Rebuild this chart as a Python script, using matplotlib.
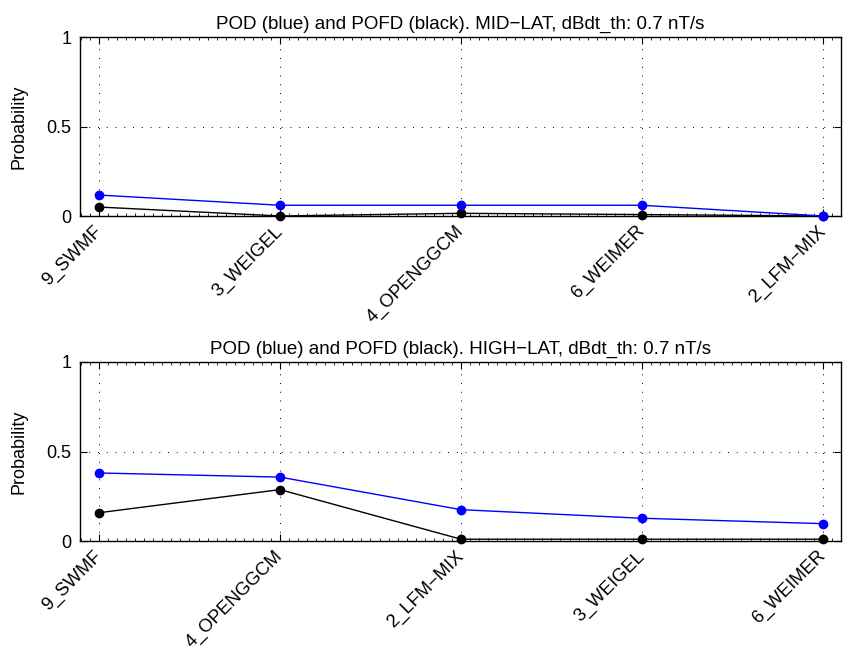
import matplotlib
matplotlib.use('Agg')
import matplotlib.pyplot as plt
from matplotlib.ticker import MultipleLocator

plt.rcParams['font.family'] = ['Liberation Sans', 'DejaVu Sans']

mid_models = ['9_SWMF', '3_WEIGEL', '4_OPENGGCM', '6_WEIMER', '2_LFM\u2212MIX']
mid_pod = [0.117, 0.06, 0.06, 0.06, 0.0]
mid_pofd = [0.05, 0.0, 0.015, 0.008, 0.0]

high_models = ['9_SWMF', '4_OPENGGCM', '2_LFM\u2212MIX', '3_WEIGEL', '6_WEIMER']
high_pod = [0.38, 0.357, 0.175, 0.127, 0.097]
high_pofd = [0.158, 0.287, 0.01, 0.01, 0.01]

titles = ['POD (blue) and POFD (black). MID\u2212LAT, dBdt_th: 0.7 nT/s',
          'POD (blue) and POFD (black). HIGH\u2212LAT, dBdt_th: 0.7 nT/s']

fig = plt.figure(figsize=(8.49, 6.55), dpi=100)
W, H = 849, 655
# axes boxes in pixels: left, top, right, bottom
boxes = [(80, 37, 841, 216), (80, 362, 841, 541)]
sets = [(mid_models, mid_pod, mid_pofd), (high_models, high_pod, high_pofd)]

for box, (models, pod, pofd), title in zip(boxes, sets, titles):
    l, t, r, b = box
    ax = fig.add_axes([l / W, 1 - b / H, (r - l) / W, (b - t) / H])
    x = list(range(1, len(models) + 1))
    ax.plot(x, pofd, '-o', color='black', lw=1, ms=6, clip_on=False, zorder=3)
    ax.plot(x, pod, '-o', color='blue', lw=1, ms=6, clip_on=False, zorder=4)
    ax.set_xlim(0.895, 5.1)
    ax.set_ylim(0, 1)
    ax.set_yticks([0, 0.5, 1])
    ax.set_yticklabels(['0', '0.5', '1'], fontsize=13)
    ax.set_xticks(x)
    ax.set_xticklabels(models, rotation=45, ha='right', va='center',
                       rotation_mode='anchor', fontsize=13.2)
    ax.xaxis.set_minor_locator(MultipleLocator(0.05))
    ax.tick_params(which='both', direction='in', top=True, right=True)
    ax.tick_params(which='major', length=5, width=0.8)
    ax.tick_params(axis='x', which='major', pad=9)
    ax.tick_params(axis='y', which='major', pad=6)
    ax.tick_params(which='minor', length=2, width=0.6)
    ax.grid(True, which='major', linestyle=(0, (1, 8)), color='black', lw=0.7)
    for s in ax.spines.values():
        s.set_linewidth(1.0)
    ax.set_ylabel('Probability', fontsize=13, labelpad=14)
    ax.set_title(title, fontsize=13.5, pad=6)

fig.savefig('out.png', dpi=100)
